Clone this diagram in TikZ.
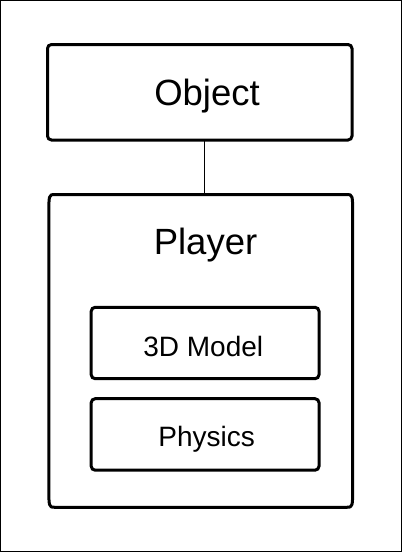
\documentclass[tikz,border=0pt]{standalone}
\usepackage{fontspec}
\setmainfont{Liberation Sans}
\begin{document}
\begin{tikzpicture}[x=1pt,y=-1pt,
  box/.style={draw, line width=3pt, rounded corners=4pt, inner sep=0pt, outer sep=0pt, anchor=north west},
  frame/.style={inner sep=0pt, outer sep=0pt, anchor=north west},
  big/.style={font=\fontsize{36.5}{40}\selectfont, anchor=base, inner sep=0pt},
  small/.style={font=\fontsize{28}{32}\selectfont, anchor=base, inner sep=0pt}]
\useasboundingbox (0,0) rectangle (402,552);
\draw[line width=1pt] (0.5,0.5) rectangle (401.5,551.5);
% boxes
\node[box, minimum width=304.5pt, minimum height=95.5pt] (obj) at (47.5,44.5) {};
\node[frame, minimum width=303.9pt, minimum height=312.8pt] (player) at (48.8,194.5) {};
\draw[line width=3pt, line join=round]
  ([xshift=6pt]player.north west) -- ([xshift=-6pt]player.north east)
  .. controls (player.north east) .. ([yshift=-22pt]player.north east)
  -- ([yshift=22pt]player.south east)
  .. controls (player.south east) .. ([xshift=-6pt]player.south east)
  -- ([xshift=6pt]player.south west)
  .. controls (player.south west) .. ([yshift=22pt]player.south west)
  -- ([yshift=-22pt]player.north west)
  .. controls (player.north west) .. ([xshift=6pt]player.north west) -- cycle;
\node[box, minimum width=227.8pt, minimum height=71.4pt] (model) at (91.2,307.3) {};
\node[box, minimum width=227.8pt, minimum height=71.5pt] (phys) at (91.2,398.7) {};
% texts
\node[big] (objtext) at (207,105) {Object};
\node[big] (playertext) at (205.5,254.3) {Player};
\node[small] (modeltext) at (203.3,356.7) {3D Model};
\node[small] (phystext) at (206.7,446.7) {Physics};
% connector
\coordinate (cx) at (204.3,0);
\draw[line width=1.2pt] (obj.south -| cx) -- (player.north -| cx);
\end{tikzpicture}
\end{document}
